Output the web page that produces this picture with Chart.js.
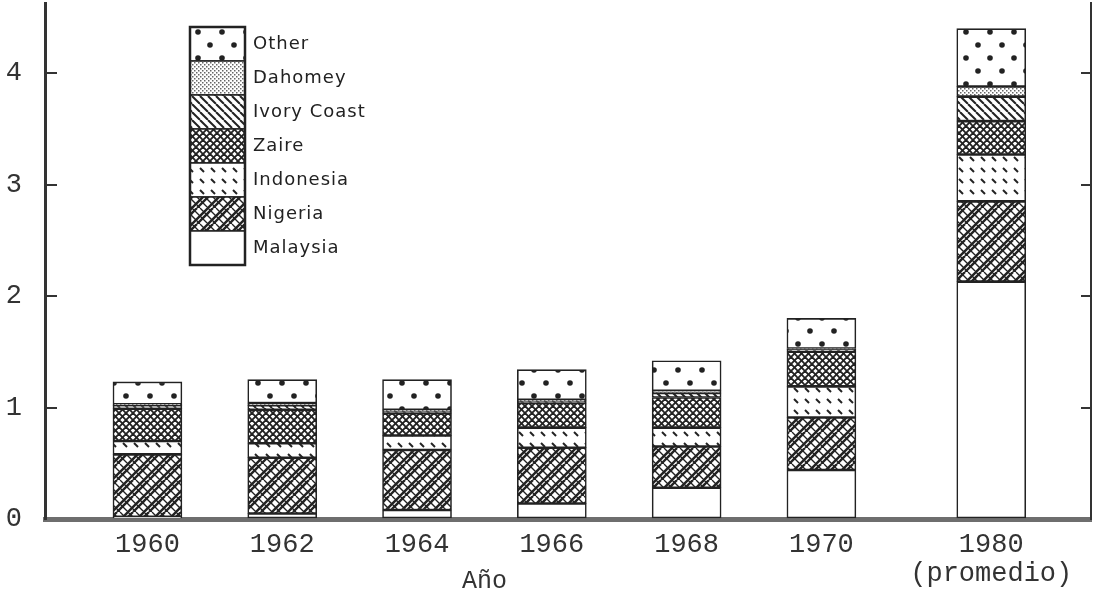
<!DOCTYPE html>
<html>
<head>
<meta charset="utf-8">
<script src="https://cdn.jsdelivr.net/npm/chart.js@4"></script>
<style>
  body { margin: 0; background: #fff; }
  #wrap { width: 1095px; height: 602px; }
</style>
</head>
<body>
<div id="wrap"><canvas id="c"></canvas></div>
<script>
// categories and where each sits on the x axis (1980 is set apart from the rest)
var tickLabels = ['1960', '1962', '1964', '1966', '1968', '1970', ['1980', '(promedio)']];
var slots = [0, 1, 2, 3, 4, 5, 6.26];
var yTicks = [0, 1, 2, 3, 4];

// series, bottom to top of each bar
var malaysia   = [0.02, 0.05, 0.08, 0.14, 0.28, 0.44, 2.13];
var nigeria    = [0.56, 0.50, 0.54, 0.50, 0.37, 0.47, 0.72];
var indonesia  = [0.12, 0.13, 0.13, 0.18, 0.17, 0.28, 0.42];
var zaire      = [0.29, 0.30, 0.20, 0.22, 0.27, 0.31, 0.30];
var ivoryCoast = [0.03, 0.04, 0.02, 0.02, 0.04, 0.02, 0.22];
var dahomey    = [0.01, 0.02, 0.01, 0.01, 0.02, 0.01, 0.09];
var other      = [0.20, 0.21, 0.27, 0.27, 0.27, 0.27, 0.52];

var ink = '#222';
var ctx = document.getElementById('c').getContext('2d');

function makePattern(w, h, draw) {
	var tile = document.createElement('canvas');
	tile.width = w; tile.height = h;
	var g = tile.getContext('2d');
	g.fillStyle = '#fff';
	g.fillRect(0, 0, w, h);
	g.strokeStyle = ink;
	g.fillStyle = ink;
	draw(g, w, h);
	return ctx.createPattern(tile, 'repeat');
}

// "/" lines across a square tile
function slash(g, s, off) {
	for (var k = -1; k <= 1; k++) {
		g.beginPath();
		g.moveTo(k * s + off, s);
		g.lineTo(k * s + off + s, 0);
		g.stroke();
	}
}
// "\" lines across a square tile
function backslash(g, s, off) {
	for (var k = -1; k <= 1; k++) {
		g.beginPath();
		g.moveTo(k * s + off, 0);
		g.lineTo(k * s + off + s, s);
		g.stroke();
	}
}

var fills = {
	malaysia: '#fff',
	nigeria: makePattern(16, 16, function(g, w){
		g.lineWidth = 2.4; slash(g, w, 0); slash(g, w, 5);
		g.lineWidth = 1.3; backslash(g, w, 0); backslash(g, w, 8);
	}),
	indonesia: makePattern(11, 11, function(g){
		g.lineWidth = 2;
		g.beginPath(); g.moveTo(2, 3); g.lineTo(6, 7); g.stroke();
	}),
	zaire: makePattern(7, 7, function(g, w){
		g.lineWidth = 1.9; slash(g, w, 0); backslash(g, w, 0);
	}),
	ivoryCoast: makePattern(8, 8, function(g, w){
		g.lineWidth = 2; backslash(g, w, 0);
	}),
	dahomey: makePattern(4, 4, function(g){
		g.fillStyle = '#666';
		g.fillRect(0, 0, 1.5, 1.5);
		g.fillRect(2, 2, 1.5, 1.5);
	}),
	other: makePattern(24, 26, function(g){
		g.beginPath(); g.arc(6, 6, 2.8, 0, Math.PI * 2); g.fill();
		g.beginPath(); g.arc(18, 19, 2.8, 0, Math.PI * 2); g.fill();
	})
};

function series(label, values, fill) {
	return {
		label: label,
		data: values.map(function(v, i){ return { x: slots[i], y: v }; }),
		backgroundColor: fill,
		borderColor: ink,
		borderWidth: 1.6,
		borderSkipped: false,
		barThickness: 69
	};
}

var datasets = [
	series('Malaysia', malaysia, fills.malaysia),
	series('Nigeria', nigeria, fills.nigeria),
	series('Indonesia', indonesia, fills.indonesia),
	series('Zaire', zaire, fills.zaire),
	series('Ivory Coast', ivoryCoast, fills.ivoryCoast),
	series('Dahomey', dahomey, fills.dahomey),
	series('Other', other, fills.other)
];

var monoFont = { family: "'Liberation Mono', monospace", size: 27 };

// legend drawn as a stack of swatches inside the plot, Other on top
var patternLegend = {
	id: 'patternLegend',
	afterDraw: function(chart) {
		var c = chart.ctx;
		var x = 190, y = 27, w = 55, h = 34;
		var items = chart.data.datasets.slice().reverse();
		c.save();
		c.font = "18px 'DejaVu Sans', sans-serif";
		c.letterSpacing = '1px';
		c.textBaseline = 'middle';
		items.forEach(function(ds, i){
			var top = y + i * h;
			c.fillStyle = ds.backgroundColor;
			c.fillRect(x, top, w, h);
			c.strokeStyle = ink;
			c.lineWidth = 1.5;
			c.strokeRect(x, top, w, h);
			c.fillStyle = ink;
			c.fillText(ds.label, x + w + 8, top + h / 2);
		});
		c.lineWidth = 2.5;
		c.strokeRect(x, y, w, h * items.length);
		// axis title under the middle of the first bars
		var xs = chart.scales.x;
		c.letterSpacing = '0px';
		c.font = "25px 'Liberation Mono', monospace";
		c.textAlign = 'center';
		c.fillStyle = '#333';
		c.fillText('Año', xs.getPixelForValue(2.5), 581);
		c.restore();
	}
};

function noPadY(width) {
	return function(s){ s.width = width; s.paddingTop = 0; s.paddingBottom = 0; };
}

new Chart(ctx, {
	type: 'bar',
	data: { datasets: datasets },
	plugins: [patternLegend],
	options: {
		responsive: true,
		maintainAspectRatio: false,
		animation: false,
		layout: { padding: { top: 3, right: 1, left: 0, bottom: 0 } },
		plugins: { legend: { display: false }, tooltip: { enabled: false } },
		scales: {
			x: {
				type: 'linear',
				stacked: true,
				offset: false,
				min: -0.76,
				max: 7.0,
				afterBuildTicks: function(s){ s.ticks = slots.map(function(v){ return { value: v }; }); },
				afterFit: function(s){ s.height = 83; s.paddingLeft = 0; s.paddingRight = 0; },
				grid: { display: false },
				border: { display: true, color: '#6e6e6e', width: 5 },
				ticks: {
					autoSkip: false,
					maxRotation: 0,
					padding: 4,
					color: '#333',
					font: { family: monoFont.family, size: 27, lineHeight: 1.05 },
					callback: function(v, i){ return tickLabels[i]; }
				}
			},
			y: {
				stacked: true,
				min: 0,
				max: 4.63,
				afterBuildTicks: function(s){ s.ticks = yTicks.map(function(v){ return { value: v }; }); },
				afterFit: noPadY(45),
				grid: { drawOnChartArea: false, drawTicks: true, tickLength: -12, color: '#333', lineWidth: 2 },
				border: { display: true, color: '#333', width: 3 },
				ticks: { padding: 35, color: '#333', font: monoFont }
			},
			y2: {
				position: 'right',
				min: 0,
				max: 4.63,
				afterBuildTicks: function(s){ s.ticks = yTicks.map(function(v){ return { value: v }; }); },
				afterFit: noPadY(3),
				grid: { drawOnChartArea: false, drawTicks: true, tickLength: -10, color: '#333', lineWidth: 2 },
				border: { display: true, color: '#333', width: 2 },
				ticks: { display: false }
			}
		}
	}
});
</script>
</body>
</html>
